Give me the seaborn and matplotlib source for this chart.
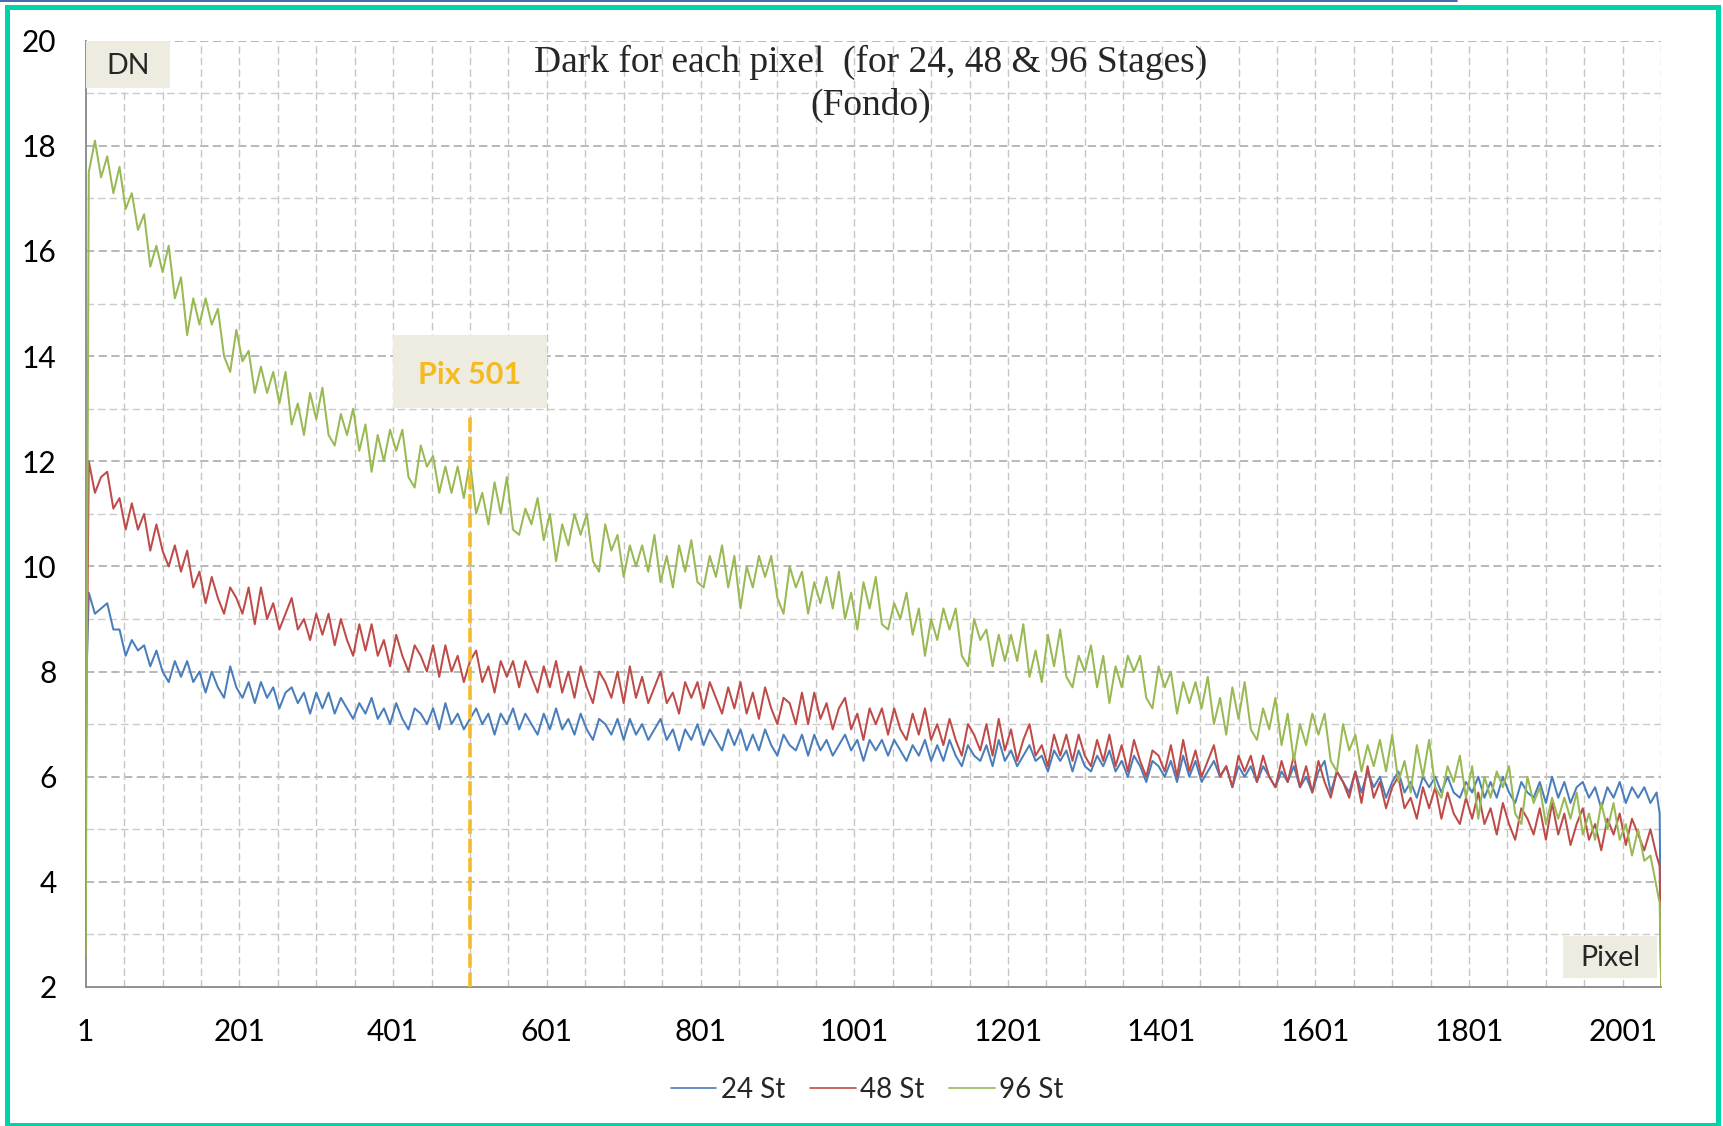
import matplotlib
matplotlib.use("Agg")
import matplotlib.pyplot as plt
from matplotlib.patches import Rectangle
from matplotlib.lines import Line2D
import pandas as pd
import seaborn as sns

# Pixel index of each sample (every 8th pixel, plus both detector edges)
pixel = [1] + list(range(5, 2046, 8)) + [2049, 2051]

dn_24 = [7.4,
    9.5, 9.1, 9.2, 9.3, 8.8, 8.8, 8.3, 8.6, 8.4, 8.5,
    8.1, 8.4, 8.0, 7.8, 8.2, 7.9, 8.2, 7.8, 8.0, 7.6,
    8.0, 7.7, 7.5, 8.1, 7.7, 7.5, 7.8, 7.4, 7.8, 7.5,
    7.7, 7.3, 7.6, 7.7, 7.4, 7.6, 7.2, 7.6, 7.3, 7.6,
    7.2, 7.5, 7.3, 7.1, 7.4, 7.2, 7.5, 7.1, 7.3, 7.0,
    7.4, 7.1, 6.9, 7.3, 7.2, 7.0, 7.3, 6.9, 7.4, 7.0,
    7.2, 6.9, 7.1, 7.3, 7.0, 7.2, 6.8, 7.2, 7.0, 7.3,
    6.9, 7.2, 7.0, 6.8, 7.2, 6.9, 7.3, 6.9, 7.1, 6.8,
    7.2, 6.9, 6.7, 7.1, 7.0, 6.8, 7.1, 6.7, 7.1, 6.8,
    7.0, 6.7, 6.9, 7.1, 6.7, 6.9, 6.5, 6.9, 6.7, 7.0,
    6.6, 6.9, 6.7, 6.5, 6.9, 6.6, 6.9, 6.5, 6.8, 6.5,
    6.9, 6.6, 6.4, 6.8, 6.6, 6.5, 6.8, 6.4, 6.8, 6.5,
    6.7, 6.4, 6.6, 6.8, 6.5, 6.7, 6.3, 6.7, 6.5, 6.7,
    6.4, 6.7, 6.5, 6.3, 6.6, 6.4, 6.7, 6.3, 6.6, 6.3,
    6.7, 6.4, 6.2, 6.6, 6.4, 6.3, 6.6, 6.2, 6.7, 6.3,
    6.5, 6.2, 6.4, 6.6, 6.3, 6.4, 6.1, 6.5, 6.3, 6.5,
    6.1, 6.5, 6.2, 6.1, 6.4, 6.2, 6.5, 6.1, 6.3, 6.0,
    6.4, 6.2, 5.9, 6.3, 6.2, 6.0, 6.3, 5.9, 6.4, 6.0,
    6.3, 5.9, 6.1, 6.3, 6.0, 6.2, 5.8, 6.2, 6.0, 6.2,
    5.9, 6.2, 6.0, 5.8, 6.1, 5.9, 6.2, 5.8, 6.0, 5.7,
    6.1, 6.3, 5.7, 6.1, 5.9, 5.7, 6.1, 5.7, 6.1, 5.8,
    6.0, 5.6, 5.9, 6.1, 5.7, 5.9, 5.6, 6.0, 5.8, 6.0,
    5.7, 6.0, 5.7, 5.6, 5.9, 5.7, 6.0, 5.6, 5.9, 5.6,
    6.0, 5.7, 5.5, 5.9, 5.7, 5.6, 5.9, 5.5, 6.0, 5.6,
    5.9, 5.5, 5.8, 5.9, 5.6, 5.8, 5.4, 5.8, 5.6, 5.9,
    5.5, 5.8, 5.6, 5.8, 5.5, 5.7,
    5.3, 2.0]

dn_48 = [5.4,
    12.0, 11.4, 11.7, 11.8, 11.1, 11.3, 10.7, 11.2, 10.7, 11.0,
    10.3, 10.8, 10.3, 10.0, 10.4, 9.9, 10.3, 9.6, 9.9, 9.3,
    9.8, 9.4, 9.1, 9.6, 9.4, 9.1, 9.6, 8.9, 9.6, 9.0,
    9.3, 8.8, 9.1, 9.4, 8.8, 9.0, 8.6, 9.1, 8.7, 9.1,
    8.5, 9.0, 8.6, 8.3, 8.9, 8.4, 8.9, 8.3, 8.6, 8.1,
    8.7, 8.3, 8.0, 8.5, 8.3, 8.0, 8.5, 7.9, 8.5, 8.0,
    8.3, 7.8, 8.2, 8.4, 7.8, 8.1, 7.6, 8.2, 7.9, 8.2,
    7.7, 8.2, 7.9, 7.6, 8.1, 7.7, 8.2, 7.6, 8.0, 7.5,
    8.1, 7.7, 7.4, 8.0, 7.8, 7.5, 8.0, 7.4, 8.1, 7.5,
    7.9, 7.4, 7.7, 8.0, 7.4, 7.6, 7.2, 7.8, 7.5, 7.8,
    7.3, 7.8, 7.5, 7.2, 7.7, 7.3, 7.8, 7.2, 7.6, 7.1,
    7.7, 7.3, 7.0, 7.5, 7.4, 7.0, 7.6, 7.0, 7.6, 7.1,
    7.4, 6.9, 7.3, 7.5, 6.9, 7.2, 6.7, 7.3, 7.0, 7.3,
    6.8, 7.3, 6.9, 6.7, 7.2, 6.8, 7.3, 6.7, 7.0, 6.6,
    7.1, 6.7, 6.4, 7.0, 6.8, 6.5, 7.0, 6.4, 7.1, 6.5,
    6.9, 6.3, 6.7, 7.0, 6.4, 6.6, 6.2, 6.8, 6.4, 6.8,
    6.3, 6.8, 6.4, 6.2, 6.7, 6.3, 6.8, 6.2, 6.6, 6.1,
    6.7, 6.3, 6.0, 6.5, 6.4, 6.1, 6.6, 6.0, 6.7, 6.1,
    6.5, 6.0, 6.3, 6.6, 6.0, 6.2, 5.8, 6.4, 6.1, 6.4,
    5.9, 6.4, 6.0, 5.8, 6.3, 5.9, 6.4, 5.8, 6.2, 5.7,
    6.3, 5.9, 5.6, 6.1, 5.9, 5.6, 6.1, 5.5, 6.2, 5.6,
    5.9, 5.4, 5.8, 6.0, 5.4, 5.6, 5.2, 5.8, 5.4, 5.8,
    5.2, 5.7, 5.3, 5.1, 5.6, 5.2, 5.7, 5.1, 5.4, 4.9,
    5.5, 5.1, 4.8, 5.4, 5.2, 4.9, 5.4, 4.8, 5.5, 4.9,
    5.3, 4.7, 5.1, 5.4, 4.8, 5.1, 4.6, 5.2, 4.9, 5.3,
    4.7, 5.2, 4.9, 4.6, 5.0, 4.5,
    4.3, 2.0]

dn_96 = [2.6,
    17.5, 18.1, 17.4, 17.8, 17.1, 17.6, 16.8, 17.1, 16.4, 16.7,
    15.7, 16.1, 15.6, 16.1, 15.1, 15.5, 14.4, 15.1, 14.6, 15.1,
    14.6, 14.9, 14.0, 13.7, 14.5, 13.9, 14.1, 13.3, 13.8, 13.3,
    13.7, 13.1, 13.7, 12.7, 13.1, 12.5, 13.3, 12.8, 13.4, 12.5,
    12.3, 12.9, 12.5, 13.0, 12.2, 12.7, 11.8, 12.5, 12.0, 12.6,
    12.2, 12.6, 11.7, 11.5, 12.3, 11.9, 12.1, 11.4, 11.9, 11.4,
    11.9, 11.3, 12.0, 11.0, 11.4, 10.8, 11.6, 11.0, 11.7, 10.7,
    10.6, 11.1, 10.8, 11.3, 10.5, 11.0, 10.1, 10.8, 10.4, 11.0,
    10.6, 11.0, 10.1, 9.9, 10.8, 10.3, 10.6, 9.8, 10.4, 10.0,
    10.4, 9.9, 10.6, 9.7, 10.2, 9.6, 10.4, 9.9, 10.5, 9.7,
    9.6, 10.2, 9.8, 10.4, 9.6, 10.2, 9.2, 10.0, 9.6, 10.2,
    9.8, 10.2, 9.4, 9.1, 10.0, 9.6, 9.9, 9.1, 9.7, 9.3,
    9.8, 9.2, 9.9, 9.0, 9.5, 8.8, 9.7, 9.2, 9.8, 8.9,
    8.8, 9.3, 9.0, 9.5, 8.7, 9.2, 8.3, 9.0, 8.6, 9.2,
    8.8, 9.2, 8.3, 8.1, 9.0, 8.6, 8.8, 8.1, 8.7, 8.2,
    8.7, 8.2, 8.9, 7.9, 8.4, 7.8, 8.7, 8.1, 8.8, 7.9,
    7.7, 8.3, 8.0, 8.5, 7.7, 8.3, 7.4, 8.1, 7.7, 8.3,
    8.0, 8.3, 7.5, 7.3, 8.1, 7.7, 8.0, 7.2, 7.8, 7.4,
    7.8, 7.3, 7.9, 7.0, 7.5, 6.8, 7.7, 7.1, 7.8, 6.9,
    6.7, 7.3, 6.9, 7.5, 6.6, 7.2, 6.3, 7.0, 6.6, 7.2,
    6.8, 7.2, 6.3, 6.1, 7.0, 6.5, 6.8, 6.1, 6.6, 6.2,
    6.7, 6.1, 6.8, 5.9, 6.3, 5.7, 6.6, 6.0, 6.7, 5.8,
    5.6, 6.2, 5.9, 6.4, 5.6, 6.2, 5.2, 6.0, 5.6, 6.1,
    5.8, 6.2, 5.3, 5.1, 6.0, 5.5, 5.8, 5.1, 5.6, 5.2,
    5.6, 5.2, 5.7, 4.9, 5.3, 4.8, 5.5, 5.0, 5.5, 4.8,
    5.1, 4.5, 5.0, 4.4, 4.5, 3.9,
    3.6, 2.0]

series_names = ["24 St", "48 St", "96 St"]
series_colors = ["#4A7EBB", "#BE4B48", "#98B954"]
marker_pixel = 501
x_tick_values = list(range(1, 2002, 200))
y_tick_values = list(range(2, 21, 2))

W, H = 1723, 1126
sns.set_style("white")
plt.rcParams["font.family"] = ["Lato", "DejaVu Sans"]

df = pd.concat([
    pd.DataFrame({"Pixel": pixel, "DN": vals, "Series": name})
    for name, vals in zip(series_names, [dn_24, dn_48, dn_96])
], ignore_index=True)

fig = plt.figure(figsize=(W / 100, H / 100), dpi=100, facecolor="white")
ax = fig.add_axes([85.7 / W, 1 - 987 / H, 1575.5 / W, 946.3 / H])

# dashed Excel-style grid
dash = (0, (5.4, 2.9))
for v in range(3, 20, 2):
    ax.axhline(v, color="#CBCBCB", lw=1.0, ls=dash, zorder=0)
for v in range(4, 21, 2):
    ax.axhline(v, color="#A4A4A4", lw=1.1, ls=dash, zorder=0)
for p in range(51, 2052, 50):
    ax.axvline(p, color="#C6C6C6", lw=1.0, ls=dash, zorder=0)

sns.lineplot(data=df, x="Pixel", y="DN", hue="Series", hue_order=series_names,
             palette=series_colors, linewidth=1.45, legend=False, ax=ax,
             estimator=None, sort=True, zorder=3)

# vertical marker at the reference pixel
ax.plot([marker_pixel, marker_pixel], [2, 12.85], color="#F2BC2E", lw=2.6,
        ls=(0, (4, 1.3)), zorder=4, solid_capstyle="butt")

ax.set_xlim(1, 2051)
ax.set_ylim(2, 20)
ax.set_xticks(x_tick_values)
ax.set_xticklabels([str(v) for v in x_tick_values])
ax.set_xticks(list(range(101, 2002, 200)), minor=True)
ax.set_yticks(y_tick_values)
ax.set_yticklabels([str(v) for v in y_tick_values])
ax.set_xlabel("")
ax.set_ylabel("")
for s in ["top", "right"]:
    ax.spines[s].set_visible(False)
for s in ["left", "bottom"]:
    ax.spines[s].set_color("#878787")
    ax.spines[s].set_linewidth(1.3)
ax.tick_params(axis="both", which="both", direction="out", length=8,
               width=1.2, color="#878787", labelsize=21.5, labelcolor="black")
ax.tick_params(axis="x", pad=14.5)
ax.tick_params(axis="y", pad=13)

# title
fig.text(871 / W, 1 - 62 / H, "Dark for each pixel  (for 24, 48 & 96 Stages)",
         ha="center", va="center", fontsize=27, family="Liberation Serif")
fig.text(871 / W, 1 - 105 / H, "(Fondo)", ha="center", va="center",
         fontsize=27, family="Liberation Serif")


def label_box(x0, y0, x1, y1, text, dy=0, **kw):
    fig.add_artist(Rectangle((x0 / W, 1 - y1 / H), (x1 - x0) / W, (y1 - y0) / H,
                             transform=fig.transFigure, facecolor="#EEECE1",
                             edgecolor="none", zorder=5))
    fig.text((x0 + x1) / 2 / W, 1 - ((y0 + y1) / 2 + dy) / H, text,
             ha="center", va="center", zorder=6, **kw)


label_box(86, 41, 170, 88, "DN", dy=1, fontsize=20.5)
label_box(393, 335, 547, 408, f"Pix {marker_pixel}", dy=3, fontsize=22,
          fontweight="bold", color="#F5BB1E")
label_box(1563, 936, 1657, 978, "Pixel", dy=1, fontsize=20.5)

handles = [Line2D([], [], color=c, lw=1.2) for c in series_colors]
fig.legend(handles, series_names, loc="center", ncol=3, frameon=False,
           bbox_to_anchor=(867 / W, 1 - 1090 / H), fontsize=20,
           handlelength=1.65, handletextpad=0.15, columnspacing=0.9)

# outer frame
fig.add_artist(Rectangle((7.5 / W, 1 - 1124.5 / H), 1710 / W, 1118 / H,
                         transform=fig.transFigure, fill=False,
                         edgecolor="#00D2AA", linewidth=3.6, zorder=10))
fig.add_artist(Line2D([0, 1457 / W], [1 - 0.8 / H, 1 - 0.8 / H],
                      transform=fig.transFigure, color="#1F4E9B", lw=1.2,
                      zorder=10))

fig.savefig("out.png", dpi=100, facecolor="white")
